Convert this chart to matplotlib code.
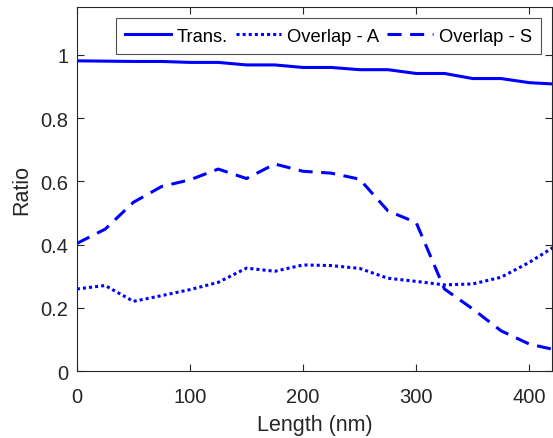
import matplotlib.pyplot as plt
import numpy as np

plt.rcParams['font.family'] = ['Liberation Sans', 'DejaVu Sans']

length = [0, 25, 50, 75, 100, 125, 150, 175, 200, 225, 250, 275, 300, 325, 350, 375, 400, 425]
trans = [0.981, 0.980, 0.979, 0.979, 0.976, 0.976, 0.968, 0.968, 0.960, 0.960,
         0.953, 0.953, 0.941, 0.941, 0.925, 0.925, 0.912, 0.907]
overlap_a = [0.260, 0.271, 0.221, 0.239, 0.258, 0.281, 0.326, 0.316, 0.336, 0.334,
             0.325, 0.294, 0.284, 0.273, 0.276, 0.297, 0.344, 0.400]
overlap_s = [0.404, 0.449, 0.534, 0.584, 0.605, 0.639, 0.609, 0.655, 0.632, 0.626,
             0.607, 0.507, 0.470, 0.260, 0.197, 0.128, 0.086, 0.066]

fig = plt.figure(figsize=(5.53, 4.39), dpi=100)
ax = fig.add_axes([0.139, 0.152, 0.859, 0.829])

blue = (0, 0, 1)
ax.plot(length, trans, color=blue, linewidth=2.2, label='Trans.')
ax.plot(length, overlap_a, color=blue, linewidth=2.2, linestyle=(0, (1, 1)), label='Overlap - A')
ax.plot(length, overlap_s, color=blue, linewidth=2.2, linestyle=(0, (4.6, 2.8)), label='Overlap - S')

ax.set_xlim(0, 420)
ax.set_ylim(0, 1.15)
ax.set_xticks([0, 100, 200, 300, 400])
ax.set_yticks([0, 0.2, 0.4, 0.6, 0.8, 1])
ax.set_yticklabels(['0', '0.2', '0.4', '0.6', '0.8', '1'])

grey = '#262626'
ax.tick_params(direction='in', top=True, right=True, length=5, width=0.8,
               labelsize=14.5, colors=grey)
ax.tick_params(axis='x', pad=11)
ax.tick_params(axis='y', pad=6)
for s in ax.spines.values():
    s.set_color(grey)
    s.set_linewidth(0.8)

ax.set_xlabel('Length (nm)', fontsize=15.5, color=grey, labelpad=6)
ax.set_ylabel('Ratio', fontsize=15.5, color=grey, labelpad=6)

leg = ax.legend(loc='upper right', ncol=3, fontsize=13.2, frameon=True, fancybox=False,
                edgecolor=grey, handlelength=2.5, handletextpad=0.3, columnspacing=0.45,
                borderpad=0.5, borderaxespad=0.6)
leg.get_frame().set_linewidth(0.8)

fig.savefig('out.png', dpi=100)
